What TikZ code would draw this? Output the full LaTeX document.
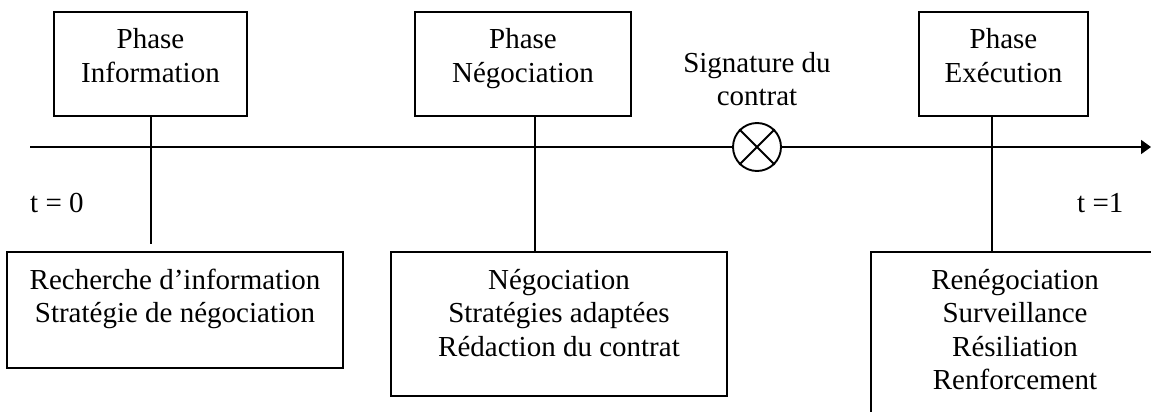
\documentclass[tikz,border=0pt]{standalone}
\usepackage{fontspec}
\setmainfont{Liberation Serif}
\usetikzlibrary{arrows.meta}
\newcommand{\txtfont}{\fontsize{29}{33.5}\selectfont}
\newcommand{\fstrut}{\rule{0pt}{25pt}}
\tikzset{
  box/.style={draw, line width=1.9pt, rectangle, inner sep=0pt},
  lbl/.style={font=\txtfont, align=center, inner sep=0pt, anchor=north},
  link/.style={line width=1.9pt},
}
\begin{document}
\begin{tikzpicture}[x=1pt, y=-1pt]
\useasboundingbox (0,0) rectangle (1151,412);
\clip (0,0) rectangle (1151,412);
\fill[white] (0,0) rectangle (1151,412);

% top phase boxes
\node[box, minimum width=193pt, minimum height=104pt] (p1) at (150.5,64) {};
\node[box, minimum width=216pt, minimum height=104pt] (p2) at (523,64) {};
\node[box, minimum width=169pt, minimum height=104pt] (p3) at (1003.5,64) {};
\node[lbl] (p1t) at ([yshift=-12.5pt]p1.north) {\fstrut Phase\\Information};
\node[lbl] (p2t) at ([yshift=-12.5pt]p2.north) {\fstrut Phase\\Négociation};
\node[lbl] (p3t) at ([yshift=-12.5pt]p3.north) {\fstrut Phase\\Exécution};

% bottom boxes
\node[box, minimum width=336pt, minimum height=116pt] (b1) at (175,310) {};
\node[box, minimum width=336pt, minimum height=144pt] (b2) at (559,324) {};
\node[box, minimum width=288pt, minimum height=200pt] (b3) at (1015,352) {};
\node[lbl] (b1t) at ([yshift=-13pt]b1.north) {\fstrut Recherche d’information\\Stratégie de négociation};
\node[lbl] (b2t) at ([yshift=-13pt]b2.north) {\fstrut Négociation\\Stratégies adaptées\\Rédaction du contrat};
\node[lbl] (b3t) at ([yshift=-13pt]b3.north) {\fstrut Renégociation\\Surveillance\\Résiliation\\Renforcement};

% time line
\coordinate (tstart) at (30,147);
\coordinate (tend) at (1151,147);
\node[draw, circle, line width=1.9pt, minimum size=48pt, inner sep=0pt, fill=white] (sig) at (757,147) {};
\draw[link] (sig.north west) -- (sig.south east);
\draw[link] (sig.north east) -- (sig.south west);
\draw[link] (tstart) -- (sig.west);
\draw[link, -{Triangle[length=10pt, width=14pt]}] (sig.east) -- (tend);
\node[lbl] (sigt) at (757,47) {\fstrut Signature du\\contrat};

% vertical connectors
\coordinate (v1end) at (151,244);
\coordinate (v2) at (535,0);
\coordinate (v3) at (992,0);
\draw[link] (p1.south -| v1end) -- (v1end);
\draw[link] (p2.south -| v2) -- (b2.north -| v2);
\draw[link] (p3.south -| v3) -- (b3.north -| v3);

% time labels
\node[font=\txtfont, inner sep=0pt, anchor=base west] (t0) at (30,212) {t = 0};
\node[font=\txtfont, inner sep=0pt, anchor=base west] (t1) at (1077,212) {t =1};
\end{tikzpicture}
\end{document}
